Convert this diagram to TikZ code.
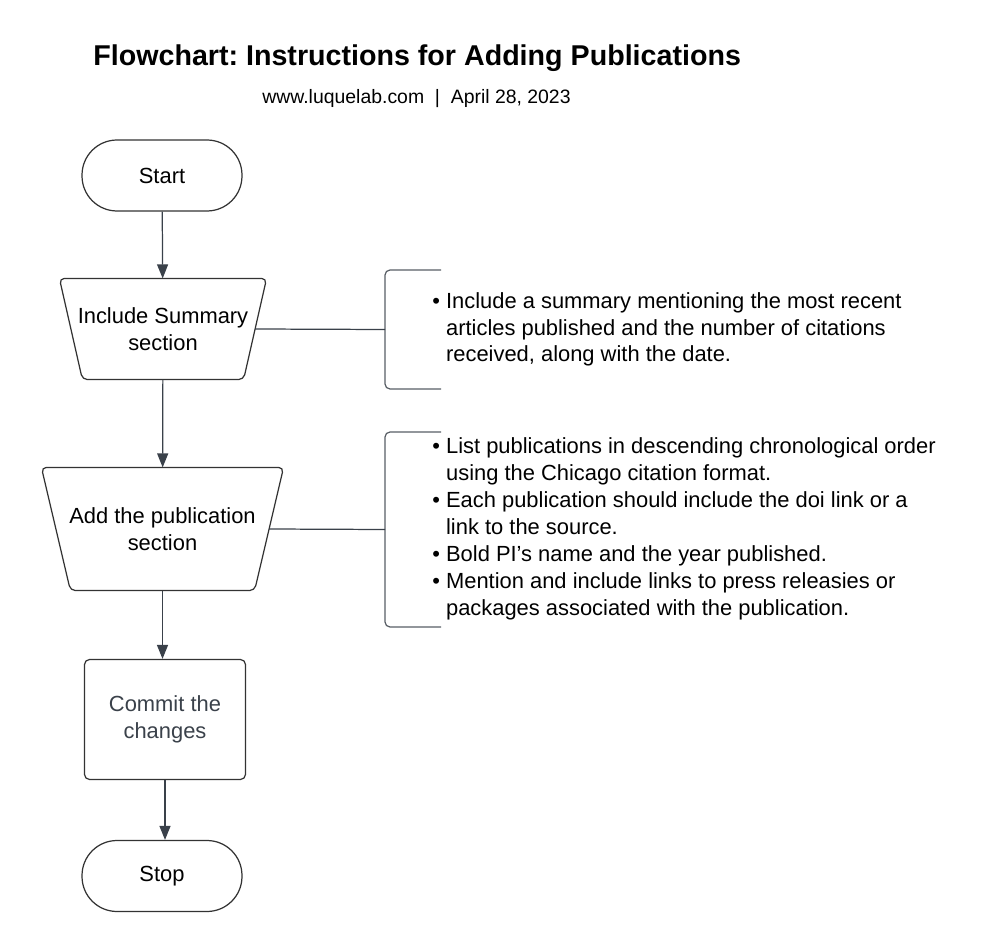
\documentclass[tikz,border=0pt]{standalone}
\usepackage{fontspec}
\setmainfont{Liberation Sans}
\usetikzlibrary{arrows.meta,calc}
\frenchspacing

\definecolor{ink}{HTML}{333333}
\definecolor{slate}{HTML}{3A414A}

\tikzset{
  body/.style={font=\fontsize{12.47pt}{15.3pt}\selectfont},
  flow/.style={body, align=center, inner sep=0pt, line width=0.7pt},
  term/.style={flow, draw=ink, minimum width=3.2cm, minimum height=1.42cm, rounded corners=0.7cm},
  procbox/.style={flow, draw=ink, rounded corners=0.1cm, text=slate},
  manual/.style={flow},
  outline/.style={draw=ink, line width=0.7pt, rounded corners=0.1cm},
  arrow/.style={draw=slate, line width=0.7pt, -{Triangle[length=0.28cm,width=0.22cm]}},
  link/.style={draw=slate, line width=0.7pt},
  brace/.style={draw=slate!85, line width=0.7pt, rounded corners=0.1cm},
  notes/.style={body, anchor=base west, align=left, inner sep=0pt}
}

\begin{document}
\begin{tikzpicture}[x=0.02cm,y=-0.02cm]
\useasboundingbox (0,0) rectangle (990,952);

% Heading
\node[anchor=base west, inner sep=0pt, font=\fontsize{16.3pt}{19pt}\selectfont\bfseries] (title) at (93,66) {Flowchart: Instructions for Adding Publications};
\node[anchor=base west, inner sep=0pt, font=\fontsize{11.05pt}{13pt}\selectfont] (sub) at (262,104) {www.luquelab.com\ \ |\ \ April 28, 2023};

% Flow steps
\node[term] (start) at (162,175.5) {Start};
\node[manual, minimum width=4.12cm, minimum height=2cm] (summary) at (163,329) {Include Summary\\section};
\node[manual, minimum width=4.82cm, minimum height=2.44cm] (pubs) at (162.5,529) {Add the publication\\section};
\node[procbox, minimum width=3.22cm, minimum height=2.4cm] (commit) at (165,719.5) {Commit the\\changes};
\node[term] (stop) at (162,876) {Stop};

% Manual-input outlines
\draw[outline] (summary.north west) -- (summary.north east) -- ([xshift=-0.46cm]summary.south east) -- ([xshift=0.46cm]summary.south west) -- cycle;
\draw[outline] (pubs.north west) -- (pubs.north east) -- ([xshift=-0.58cm]pubs.south east) -- ([xshift=0.58cm]pubs.south west) -- cycle;
\coordinate (summaryR) at ($(summary.north east)!0.5!([xshift=-0.46cm]summary.south east)$);
\coordinate (pubsR) at ($(pubs.north east)!0.5!([xshift=-0.58cm]pubs.south east)$);

% Arrows between steps
\draw[arrow] (start) -- (summary);
\draw[arrow] (summary) -- (pubs);
\draw[arrow] (pubs.south) -- (pubs.south |- commit.north);
\draw[arrow] (commit.south) -- (commit.south |- stop.north);

% Brackets with notes
\coordinate (brace1) at (385,329.5);
\coordinate (brace2) at (385,529.5);
\draw[brace] (441,270) -- (385,270) -- (385,389) -- (441,389);
\draw[brace] (441,432) -- (385,432) -- (385,627) -- (441,627);
\draw[link] (summaryR) -- (brace1);
\draw[link] (pubsR) -- (brace2);

% base anchor sits on the last line
\node[notes] (note1) at (432,362) {\textbullet\ Include a summary mentioning the most recent\\
\phantom{\textbullet\ }articles published and the number of citations\\
\phantom{\textbullet\ }received, along with the date.};
\node[notes] (note2) at (432,615) {\textbullet\ List publications in descending chronological order\\
\phantom{\textbullet\ }using the Chicago citation format.\\
\textbullet\ Each publication should include the doi link or a\\
\phantom{\textbullet\ }link to the source.\\
\textbullet\ Bold PI's name and the year published.\\
\textbullet\ Mention and include links to press releasies or\\
\phantom{\textbullet\ }packages associated with the publication.};
\end{tikzpicture}
\end{document}
